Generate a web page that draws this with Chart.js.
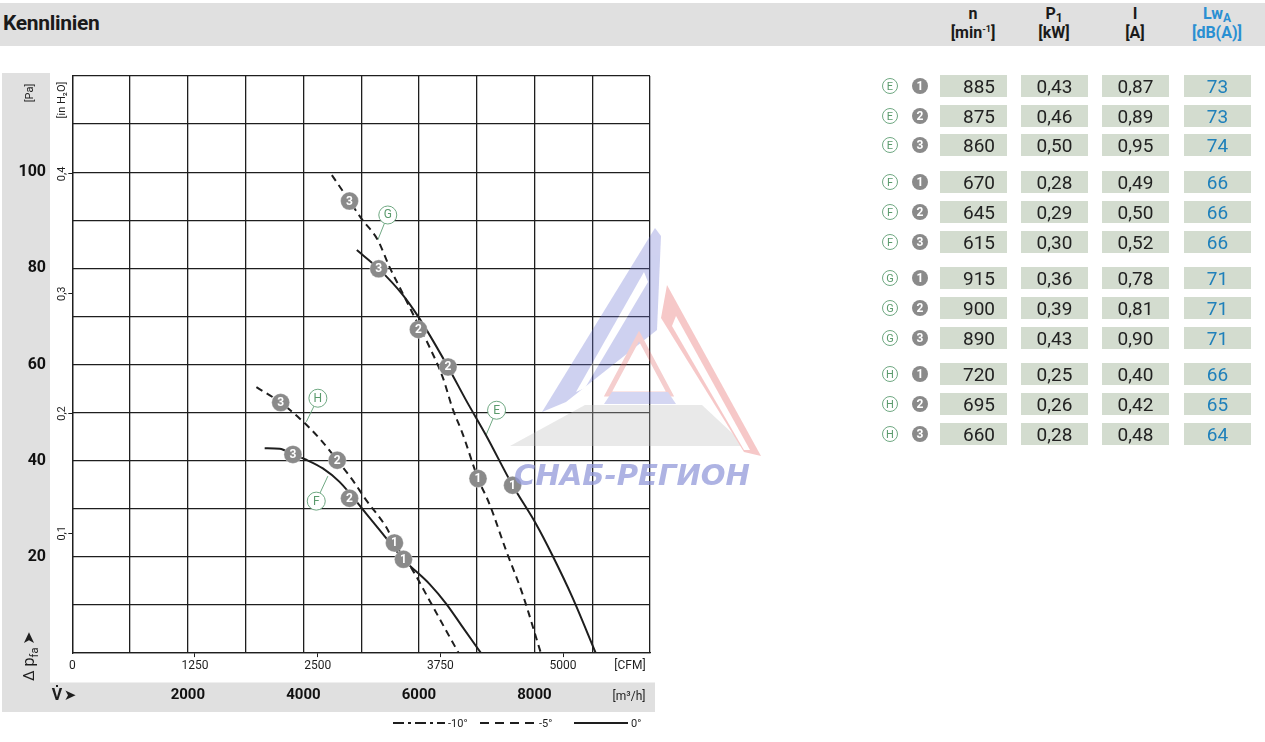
<!DOCTYPE html>
<html><head><meta charset="utf-8">
<script src="https://cdn.jsdelivr.net/npm/chart.js@4.4.1/dist/chart.umd.min.js"></script>
<style>
html,body{margin:0;padding:0;background:#fff;width:1265px;height:742px;overflow:hidden;}
#wrap{position:relative;width:1265px;height:742px;font-family:"Liberation Sans Narrow","Roboto",sans-serif;color:#1a1a1a;}
#bar{position:absolute;left:0;top:3px;width:1265px;height:43px;background:#e0e0e0;}
#title{position:absolute;left:3px;top:11px;font-weight:bold;font-size:21px;letter-spacing:-0.3px;}
.hd{position:absolute;top:4px;width:90px;text-align:center;font-weight:bold;font-size:16px;line-height:19px;}
.hd.blue{color:#2a8fd2;}
.hd sub{font-size:12px;vertical-align:-3px;line-height:0;}
.hd sup{font-size:9px;vertical-align:6px;line-height:0;}
#cv{position:absolute;left:0;top:0;}
.cell{position:absolute;height:22px;width:67px;background:#d3dccf;font-size:19px;line-height:23px;text-align:center;color:#222;}
.cell.n{text-align:right;box-sizing:border-box;padding-right:12px;}
.cell.lw{color:#1f80ba;}
.tag{position:absolute;width:16px;height:16px;border-radius:50%;box-sizing:border-box;text-align:center;font-size:11px;line-height:15px;}
.tag.l{border:1px solid #6fa882;color:#5a9a6c;background:#fff;}
.tag.s{background:#8a8a8a;color:#fff;font-weight:bold;font-size:12px;line-height:16px;}
#wm{position:absolute;left:0;top:0;pointer-events:none;}
</style></head>
<body><div id="wrap">
<div id="bar"></div>
<div id="title">Kennlinien</div>
<div class="hd" style="left:928px">n<br>[min<sup>-1</sup>]</div>
<div class="hd" style="left:1009px">P<sub>1</sub><br>[kW]</div>
<div class="hd" style="left:1090px">I<br>[A]</div>
<div class="hd blue" style="left:1172px">Lw<sub>A</sub><br>[dB(A)]</div>
<canvas id="cv" width="660" height="742"></canvas>
<svg id="wm" width="1265" height="742">
  <g opacity="0.33">
    <polygon points="510,446 585,405 702,405 746,446" fill="#bdbdbd"/>
    <polygon points="655,228 661,236 657,330 566,402 542,412" fill="#6c74d2"/>
    <polygon points="644,272 648,282 585,388 576,392" fill="#ffffff"/>
    <polygon points="667,285 761,456 744,452 661,318" fill="#e45a5a"/>
    <polygon points="676,316 750,450 744,450 672,326" fill="#ffffff"/>
    <polygon points="639,336 670,394 608,394" fill="none" stroke="#e06a6a" stroke-width="5"/>
    <polygon points="612,392 668,392 676,404 604,404" fill="#7c82d6"/>
  </g>
  <text x="514" y="485" font-family="DejaVu Sans" font-weight="bold" font-style="italic" font-size="29" fill="#8f95d8" fill-opacity="0.72" textLength="236" lengthAdjust="spacingAndGlyphs">СНАБ-РЕГИОН</text>
</svg>
</div>
<script>
// ---------- data ----------
const flowTicks = [2000, 4000, 6000, 8000];          // m³/h labels
const cfmTicks = [0, 1250, 2500, 3750, 5000];         // CFM labels
const paTicks = [20, 40, 60, 80, 100];                // Pa labels
const inh2oTicks = [0.1, 0.2, 0.3, 0.4];              // in H2O labels

// Curve E (0°, solid)
const curveE_V = [4925, 5305, 5720, 6008, 6504, 6815, 7161, 7621, 8025, 8312, 8657, 9062];
const curveE_P = [83.8, 79.9, 74.5, 69.6, 59.5, 52.6, 45.3, 34.9, 26.9, 20.3, 11.6, 0];
// Curve G (-5°, dashed)
const curveG_V = [4493, 4799, 5001, 5288, 5490, 5720, 5922, 6181, 6411, 6584, 6757, 7023, 7218, 7507, 7793, 8111];
const curveG_P = [99.4, 94.0, 90.4, 85.9, 80.3, 74.8, 69.9, 63.7, 57.4, 50.8, 45.6, 36.3, 31.1, 21.4, 12.3, 0];
// Curve H (-5°, dashed)
const curveH_V = [3187, 3607, 3935, 4281, 4586, 4856, 5087, 5433, 5576, 5893, 6181, 6470, 6688];
const curveH_P = [55.3, 52.1, 48.8, 44.6, 40.1, 35.9, 31.8, 26.2, 22.9, 17.2, 11.0, 4.7, 0];
// Curve F (0°, solid)
const curveF_V = [3330, 3589, 3819, 4050, 4337, 4626, 5087, 5374, 5732, 6181, 6470, 6757, 7075];
const curveF_P = [42.6, 42.5, 41.3, 40.2, 38.4, 35.6, 29.0, 24.8, 19.5, 14.4, 10.3, 5.4, 0];

// Operating points 1,2,3
const opNumbers = ['1', '2', '3'];
const opE_V = [7621, 6504, 5305], opE_P = [34.9, 59.5, 79.9];
const opG_V = [7023, 5991, 4799], opG_P = [36.3, 67.3, 94.0];
const opH_V = [5576, 4586, 3607], opH_P = [22.9, 40.1, 52.1];
const opF_V = [5732, 4799, 3819], opF_P = [19.5, 32.2, 41.3];

// Curve name tags and their leader end points
const tagLetters = ['E', 'F', 'G', 'H'];
const tagV = [7344, 4223, 5461, 4251], tagP = [50.5, 31.6, 91.1, 53.0];
const leaderV = [7161, 4424, 5288, 4051], leaderP = [45.3, 36.8, 85.9, 48.1];

// Table
const tableGroups = ['E', 'F', 'G', 'H'];
const speedN = [885, 875, 860, 670, 645, 615, 915, 900, 890, 720, 695, 660];
const powerP1 = [0.43, 0.46, 0.50, 0.28, 0.29, 0.30, 0.36, 0.39, 0.43, 0.25, 0.26, 0.28];
const currentI = [0.87, 0.89, 0.95, 0.49, 0.50, 0.52, 0.78, 0.81, 0.90, 0.40, 0.42, 0.48];
const soundLwA = [73, 73, 74, 66, 66, 66, 71, 71, 71, 66, 65, 64];

const legendNames = ['-10°', '-5°', '0°'];

// ---------- constants ----------
const M3H_PER_CFM = 1.69901;
const PA_PER_INH2O = 249.089;
const FONT = '"Liberation Sans Narrow", "Roboto", sans-serif';
const INK = '#1e1e1e';
const TAGGREEN = '#6fa882';

// ---------- table ----------
const wrap = document.getElementById('wrap');
const fmt = v => v.toFixed(2).replace('.', ',');
for (let g = 0; g < tableGroups.length; g++) {
  for (let r = 0; r < 3; r++) {
    const i = g * 3 + r;
    const top = 75 + g * 96.1 + r * 29.7;
    const add = (cls, left, txt) => {
      const d = document.createElement('div');
      d.className = cls; d.style.left = left + 'px'; d.style.top = top + 'px';
      d.textContent = txt; wrap.appendChild(d);
    };
    const t1 = document.createElement('div');
    t1.className = 'tag l'; t1.style.left = '882px'; t1.style.top = (top + 3) + 'px';
    t1.textContent = tableGroups[g]; wrap.appendChild(t1);
    const t2 = document.createElement('div');
    t2.className = 'tag s'; t2.style.left = '912px'; t2.style.top = (top + 3) + 'px';
    t2.textContent = opNumbers[r]; wrap.appendChild(t2);
    add('cell n', 940, String(speedN[i]));
    add('cell', 1021, fmt(powerP1[i]));
    add('cell', 1102, fmt(currentI[i]));
    add('cell lw', 1184, String(soundLwA[i]));
  }
}

// ---------- chart ----------
const pts = (V, P) => V.map((v, i) => ({ x: v, y: P[i] }));
const curve = (V, P, dashed) => ({
  data: pts(V, P), showLine: true, borderColor: INK, borderWidth: 2,
  borderDash: dashed ? [7, 5] : [], pointRadius: 0, cubicInterpolationMode: 'monotone',
  xAxisID: 'x', yAxisID: 'y', order: 2
});
const ops = (V, P) => ({
  data: pts(V, P), showLine: false, pointRadius: 9, pointBackgroundColor: '#8a8a8a',
  pointBorderColor: 'rgba(255,255,255,0.6)', pointBorderWidth: 0.5, opLabels: opNumbers,
  xAxisID: 'x', yAxisID: 'y', order: 0
});
const datasets = [];
tagLetters.forEach((L, i) => {
  datasets.push({
    data: [{ x: tagV[i], y: tagP[i] }, { x: leaderV[i], y: leaderP[i] }], showLine: true,
    borderColor: TAGGREEN, borderWidth: 1, pointRadius: 0, xAxisID: 'x', yAxisID: 'y', order: 3
  });
});
datasets.push(curve(curveE_V, curveE_P, false));
datasets.push(curve(curveG_V, curveG_P, true));
datasets.push(curve(curveH_V, curveH_P, true));
datasets.push(curve(curveF_V, curveF_P, false));
datasets.push(ops(opE_V, opE_P));
datasets.push(ops(opG_V, opG_P));
datasets.push(ops(opH_V, opH_P));
datasets.push(ops(opF_V, opF_P));
datasets.push({
  data: pts(tagV, tagP), showLine: false, pointRadius: 9, pointBackgroundColor: '#fff',
  pointBorderColor: TAGGREEN, pointBorderWidth: 1, tagLabels: tagLetters,
  xAxisID: 'x', yAxisID: 'y', order: 1
});

function rotText(ctx, parts, x, y) {
  ctx.save(); ctx.translate(x, y); ctx.rotate(-Math.PI / 2);
  let cx = 0;
  for (const p of parts) {
    ctx.font = p.font; ctx.fillStyle = p.color || INK; ctx.textAlign = 'left'; ctx.textBaseline = 'middle';
    ctx.fillText(p.t, cx, p.dy || 0);
    cx += ctx.measureText(p.t).width + (p.gap || 0);
  }
  ctx.restore();
}
function rotCenter(ctx, t, font, x, y) {
  ctx.save(); ctx.translate(x, y); ctx.rotate(-Math.PI / 2);
  ctx.font = font; ctx.fillStyle = INK; ctx.textAlign = 'center'; ctx.textBaseline = 'middle';
  ctx.fillText(t, 0, 0); ctx.restore();
}

const deco = {
  id: 'deco',
  beforeDraw(chart) {
    const c = chart.ctx, sy = chart.scales.y, sx = chart.scales.x;
    c.save(); c.fillStyle = '#e0e0e0';
    c.fillRect(sy.left, 73, sy.right - sy.left, sx.bottom - 73);
    c.fillRect(sy.left, sx.top, 655 - sy.left, sx.bottom - sx.top);
    c.restore();
  },
  afterDatasetsDraw(chart) {
    const c = chart.ctx;
    chart.data.datasets.forEach((ds, di) => {
      const labels = ds.opLabels || ds.tagLabels;
      if (!labels) return;
      const meta = chart.getDatasetMeta(di);
      meta.data.forEach((el, k) => {
        c.save();
        c.font = ds.opLabels ? 'bold 12px ' + FONT : '12px ' + FONT;
        c.fillStyle = ds.opLabels ? '#fff' : '#5a9a6c';
        c.textAlign = 'center'; c.textBaseline = 'middle';
        c.fillText(labels[k], el.x, el.y + 0.5);
        c.restore();
      });
    });
  },
  afterDraw(chart) {
    const c = chart.ctx, yi = chart.scales.yi;
    inh2oTicks.forEach(v => rotCenter(c, String(v).replace('.', ','), '11px ' + FONT, 62, yi.getPixelForValue(v)));
    rotCenter(c, '[in H\u2082O]', '11px ' + FONT, 62, 100);
    rotCenter(c, '[Pa]', '11px ' + FONT, 30, 93);
    rotText(c, [
      { t: '\u0394', font: '15px ' + FONT, gap: 4 },
      { t: 'p', font: '16px ' + FONT },
      { t: 'fa', font: '11px ' + FONT, dy: 5, gap: 3 },
      { t: '\u27A4', font: '16px "DejaVu Sans"' }
    ], 30, 681);
    c.save(); c.fillStyle = INK; c.textAlign = 'center'; c.textBaseline = 'middle';
    c.font = '12px ' + FONT; c.fillText('[CFM]', 630, 666);
    c.fillText('[m\u00B3/h]', 629, 697);
    c.font = 'bold 16px ' + FONT; c.fillText('V', 57, 696);
    c.fillRect(56, 685, 2, 2);
    c.font = '15px "DejaVu Sans"'; c.fillText('\u27A4', 70, 696);
    const ly = 723;
    const seg = (x1, x2, dash) => {
      c.save(); c.strokeStyle = INK; c.lineWidth = 2; c.setLineDash(dash);
      c.beginPath(); c.moveTo(x1, ly); c.lineTo(x2, ly); c.stroke(); c.restore();
    };
    seg(393, 445, [11, 4, 3, 4]);
    seg(480, 535, [9, 6]);
    seg(574, 628, []);
    c.font = '11px ' + FONT; c.textAlign = 'left';
    c.fillText(legendNames[0], 448, ly + 1);
    c.fillText(legendNames[1], 539, ly + 1);
    c.fillText(legendNames[2], 631, ly + 1);
    c.restore();
  }
};

const tickColor = ctx => (ctx.tick && ctx.tick.value > 0) ? INK : 'rgba(0,0,0,0)';

new Chart(document.getElementById('cv'), {
  type: 'scatter',
  data: { datasets },
  options: {
    responsive: false, animation: false, events: [],
    layout: { padding: { left: 2, top: 76, right: 8.5, bottom: 30 } },
    plugins: { legend: { display: false }, tooltip: { enabled: false } },
    scales: {
      x: {
        type: 'linear', position: 'bottom', weight: 1, min: 0, max: 10000,
        ticks: { stepSize: 1000, autoSkip: false, maxRotation: 0, padding: 4, color: '#111',
          font: { family: FONT, size: 15, weight: 'bold' },
          callback: v => flowTicks.includes(v) ? String(v) : '' },
        grid: { color: INK, lineWidth: 1.3, drawTicks: false },
        border: { display: false },
        afterFit: s => { s.height = 29.5; }
      },
      xc: {
        type: 'linear', position: 'bottom', weight: 0, min: 0, max: 10000 / M3H_PER_CFM,
        afterBuildTicks: s => { s.ticks = cfmTicks.map(v => ({ value: v })); },
        ticks: { autoSkip: false, maxRotation: 0, padding: 2, color: INK,
          font: { family: FONT, size: 12 }, callback: v => String(v) },
        grid: { drawOnChartArea: false, drawTicks: true, tickLength: 4, color: tickColor },
        border: { display: true, color: INK, width: 1.3 },
        afterFit: s => { s.height = 29.4; }
      },
      y: {
        type: 'linear', position: 'left', weight: 1, min: 0, max: 120,
        ticks: { stepSize: 10, autoSkip: false, padding: 4, color: '#111',
          font: { family: FONT, size: 16, weight: 'bold' },
          callback: v => paTicks.includes(v) ? String(v) : '' },
        grid: { color: INK, lineWidth: 1.3, drawTicks: false },
        border: { display: false },
        afterFit: s => { s.width = 48; }
      },
      yi: {
        type: 'linear', position: 'left', weight: 0, min: 0, max: 120 / PA_PER_INH2O,
        afterBuildTicks: s => { s.ticks = inh2oTicks.map(v => ({ value: v })); },
        ticks: { display: false },
        grid: { drawOnChartArea: false, drawTicks: true, tickLength: 4, color: tickColor },
        border: { display: true, color: INK, width: 1.3 },
        afterFit: s => { s.width = 22.3; }
      }
    }
  },
  plugins: [deco]
});
</script>
</body></html>
